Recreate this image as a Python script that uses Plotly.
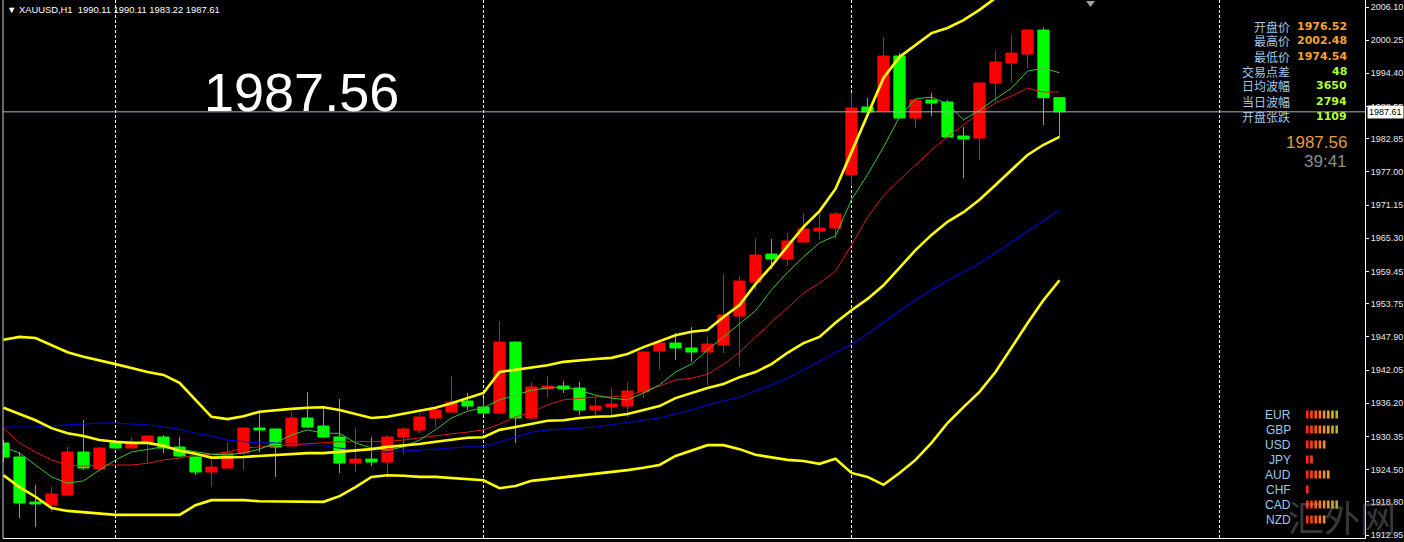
import plotly.graph_objects as go

# ---------------- data ----------------
SYMBOL = "XAUUSD,H1"
OPEN = [1929.18, 1926.71, 1918.77, 1918.24, 1920.00, 1927.59, 1924.59, 1929.35, 1928.30, 1929.18,
        1930.24, 1928.47, 1926.71, 1924.06, 1924.76, 1927.41, 1931.82, 1931.65, 1928.65, 1933.59,
        1932.17, 1930.24, 1925.65, 1926.35, 1925.82, 1930.24, 1931.47, 1933.59, 1934.65, 1936.59,
        1935.53, 1934.47, 1946.99, 1933.59, 1938.71, 1939.23, 1938.88, 1935.00, 1935.53, 1935.70,
        1938.18, 1945.41, 1946.82, 1945.94, 1945.23, 1946.47, 1951.58, 1957.58, 1962.52, 1961.64,
        1964.64, 1966.58, 1967.11, 1976.52, 1988.46, 1987.75, 1997.46, 1986.52, 1989.69, 1989.34,
        1983.34, 1982.99, 1992.69, 1996.22, 1997.81, 2002.04, 1990.11]
HIGH = [1929.71, 1927.59, 1921.77, 1921.41, 1928.47, 1933.23, 1928.40, 1929.50, 1930.24, 1930.41,
        1930.59, 1930.24, 1926.80, 1926.18, 1929.35, 1931.90, 1934.65, 1931.70, 1934.65, 1938.18,
        1935.35, 1936.94, 1931.82, 1930.24, 1930.59, 1932.00, 1934.47, 1935.35, 1941.00, 1938.00,
        1937.12, 1950.70, 1947.10, 1939.94, 1941.00, 1940.12, 1939.94, 1937.29, 1938.88, 1939.94,
        1945.40, 1946.90, 1948.58, 1949.64, 1947.88, 1959.00, 1958.64, 1965.35, 1965.17, 1966.23,
        1969.76, 1969.76, 1969.93, 1990.93, 1990.05, 2000.81, 1998.00, 1989.80, 1990.93, 1989.69,
        1984.93, 1992.87, 1998.34, 2001.16, 2002.20, 2002.48, 1990.11]
LOW = [1925.82, 1915.94, 1914.36, 1917.00, 1919.90, 1924.41, 1924.40, 1928.20, 1928.20, 1925.65,
       1927.41, 1926.71, 1923.53, 1921.41, 1924.70, 1924.41, 1927.59, 1923.18, 1928.60, 1931.82,
       1930.06, 1923.88, 1924.06, 1925.12, 1923.00, 1927.24, 1930.94, 1932.00, 1934.55, 1935.00,
       1934.12, 1934.30, 1929.18, 1933.23, 1937.29, 1938.00, 1934.12, 1934.12, 1934.12, 1933.76,
       1937.12, 1942.06, 1943.82, 1943.47, 1939.41, 1945.06, 1942.59, 1956.17, 1959.88, 1960.40,
       1964.50, 1964.99, 1965.35, 1974.54, 1986.69, 1987.60, 1986.40, 1984.75, 1986.87, 1982.99,
       1975.93, 1979.11, 1989.34, 1992.87, 1995.34, 1985.28, 1983.22]
CLOSE = [1926.71, 1918.59, 1918.42, 1920.18, 1927.59, 1924.76, 1928.30, 1928.30, 1929.18, 1930.41,
         1928.30, 1926.88, 1924.06, 1924.94, 1927.41, 1931.82, 1931.47, 1928.47, 1933.59, 1932.00,
         1930.24, 1925.65, 1926.35, 1925.82, 1930.24, 1931.65, 1933.77, 1935.00, 1936.41, 1935.70,
         1934.47, 1946.99, 1933.59, 1939.06, 1939.23, 1938.71, 1935.00, 1935.70, 1936.06, 1938.35,
         1945.23, 1946.82, 1945.94, 1945.23, 1946.64, 1951.76, 1957.76, 1962.35, 1961.64, 1964.82,
         1966.93, 1967.11, 1969.58, 1988.28, 1987.58, 1997.46, 1986.52, 1989.69, 1989.16, 1983.17,
         1982.81, 1992.69, 1996.40, 1997.98, 2002.04, 1990.11, 1987.61]

UPPER_BAND = [1947.4, 1947.9, 1947.7, 1946.5, 1945.2, 1944.4, 1943.8, 1943.1, 1942.4, 1941.7,
              1941.2, 1939.8, 1936.8, 1933.8, 1933.4, 1933.9, 1934.7, 1935.0, 1935.2, 1935.4,
              1935.5, 1935.0, 1934.3, 1933.6, 1933.8, 1934.3, 1934.8, 1935.4, 1936.2, 1937.1,
              1938.0, 1941.7, 1942.1, 1942.4, 1942.9, 1943.5, 1943.8, 1944.0, 1944.2, 1944.9,
              1946.1, 1947.2, 1948.2, 1948.8, 1949.1, 1951.4, 1953.5, 1957.2, 1960.4, 1963.9,
              1967.3, 1970.1, 1974.0, 1980.5, 1987.0, 1993.6, 1997.3, 1999.4, 2001.5, 2002.4,
              2003.8, 2005.6, 2007.7, 2009.5, 2010.9, 2012.3, 2013.5]
MIDDLE_BAND = [1935.4, 1934.3, 1933.2, 1931.8, 1930.9, 1930.4, 1929.7, 1929.4, 1929.2, 1929.2,
               1928.7, 1927.8, 1927.3, 1926.6, 1926.6, 1926.7, 1926.9, 1927.1, 1927.3, 1927.4,
               1927.4, 1927.6, 1927.8, 1928.1, 1928.5, 1928.7, 1929.0, 1929.4, 1929.7, 1930.1,
               1930.2, 1931.5, 1932.0, 1932.6, 1933.1, 1933.2, 1933.6, 1933.8, 1933.9, 1934.3,
               1935.0, 1935.7, 1937.1, 1938.0, 1938.9, 1939.6, 1940.8, 1941.7, 1943.1, 1945.1,
               1946.8, 1947.9, 1950.4, 1952.6, 1954.6, 1957.0, 1960.1, 1963.2, 1965.9, 1968.2,
               1969.9, 1972.1, 1974.7, 1977.3, 1980.0, 1981.8, 1983.2]
LOWER_BAND = [1923.5, 1921.4, 1919.7, 1917.7, 1917.2, 1917.0, 1916.8, 1916.5, 1916.5, 1916.5,
              1916.5, 1916.5, 1918.2, 1919.1, 1919.1, 1919.1, 1918.9, 1918.9, 1918.8, 1918.8,
              1918.8, 1919.8, 1921.4, 1923.2, 1923.5, 1923.4, 1923.2, 1923.2, 1923.0, 1922.8,
              1922.6, 1921.2, 1921.6, 1922.5, 1922.8, 1923.2, 1923.5, 1923.7, 1924.1, 1924.4,
              1924.8, 1925.3, 1926.9, 1927.9, 1928.8, 1928.8, 1928.1, 1927.1, 1926.6, 1926.2,
              1926.0, 1925.5, 1926.4, 1923.9, 1923.2, 1921.8, 1923.9, 1926.2, 1929.2, 1932.7,
              1935.5, 1938.2, 1941.7, 1946.1, 1950.3, 1954.4, 1957.9]
BLUE_MA = [1932.0, 1932.0, 1932.0, 1932.2, 1932.4, 1932.5, 1932.7, 1932.7, 1932.5, 1932.4,
           1932.0, 1931.6, 1930.9, 1930.4, 1929.7, 1929.5, 1929.2, 1929.2, 1929.0, 1928.8,
           1928.7, 1928.3, 1927.9, 1927.8, 1927.6, 1927.8, 1927.9, 1928.1, 1928.3, 1928.5,
           1928.5, 1929.4, 1930.2, 1931.1, 1931.5, 1931.6, 1931.8, 1932.0, 1932.4, 1932.9,
           1933.2, 1933.6, 1934.3, 1935.0, 1935.9, 1936.6, 1937.3, 1938.4, 1939.4, 1940.6,
           1942.1, 1943.5, 1945.1, 1946.6, 1948.4, 1950.5, 1952.5, 1954.4, 1956.2, 1957.8,
           1959.3, 1960.9, 1962.7, 1964.6, 1966.4, 1968.4, 1970.3]
RED_MA = [1931.8, 1929.2, 1927.6, 1926.2, 1925.3, 1925.1, 1925.3, 1925.3, 1925.3, 1925.6,
          1926.2, 1926.5, 1927.1, 1927.2, 1927.6, 1928.3, 1928.5, 1928.6, 1928.8, 1929.0,
          1929.2, 1929.4, 1929.4, 1929.4, 1929.5, 1929.7, 1930.1, 1930.4, 1930.8, 1931.1,
          1931.5, 1932.5, 1933.8, 1934.6, 1935.9, 1936.8, 1937.1, 1937.3, 1937.3, 1937.6,
          1938.4, 1939.2, 1940.3, 1940.6, 1941.3, 1943.1, 1945.2, 1947.9, 1950.5, 1953.0,
          1955.6, 1957.4, 1959.5, 1964.1, 1969.0, 1972.8, 1975.6, 1978.2, 1980.9, 1983.2,
          1985.3, 1987.4, 1989.2, 1990.4, 1991.8, 1991.1, 1991.1]
GREEN_MA = [1928.5, 1927.4, 1925.3, 1923.2, 1922.1, 1922.5, 1924.4, 1926.2, 1927.6, 1928.1,
            1928.5, 1928.1, 1927.6, 1927.2, 1927.1, 1927.4, 1928.1, 1929.2, 1930.6, 1931.5,
            1930.9, 1930.9, 1929.2, 1928.3, 1927.9, 1928.5, 1929.7, 1931.5, 1933.6, 1934.8,
            1935.4, 1936.8, 1937.6, 1938.5, 1938.9, 1939.1, 1938.5, 1937.6, 1937.1, 1936.8,
            1938.0, 1939.4, 1941.7, 1943.1, 1945.6, 1947.9, 1950.2, 1952.5, 1956.2, 1959.3,
            1962.0, 1964.5, 1965.7, 1972.1, 1976.5, 1981.4, 1986.7, 1989.9, 1990.2, 1989.0,
            1986.2, 1987.9, 1989.9, 1991.8, 1994.8, 1995.3, 1994.5]

DAY_SEPARATORS = [7, 30, 53, 76]
DAY_START = 53
Y_TICKS = [2006.10, 2000.25, 1994.40, 1988.55, 1982.85, 1977.00, 1971.15, 1965.30, 1959.45,
           1953.75, 1947.90, 1942.05, 1936.20, 1930.35, 1924.50, 1918.80, 1912.95]
BID = 1987.56
TIMER = "39:41"
SPREAD = 48
AVG_RANGE = 3650
INFO_LABELS = ["开盘价", "最高价", "最低价", "交易点差", "日均波幅", "当日波幅", "开盘张跌"]
CURRENCIES = ["EUR", "GBP", "USD", "JPY", "AUD", "CHF", "CAD", "NZD"]
STRENGTH = [8, 8, 5, 2, 6, 1, 8, 5]
STRENGTH_COLORS = ["#FF2A18", "#FF4014", "#FF5A12", "#FF7418", "#F48C20", "#E4A024", "#CDB028", "#B4B42C"]
WATERMARK = "汇外网"

# ---------------- geometry ----------------
W, H = 1404, 542
ML, MR, MT, MB = 3, 39, 0, 4
PW, PH = W - ML - MR, H - MT - MB
X_RANGE = [-0.03125, (PW - 0.5) / 16.0]
Y_RANGE = [1912.42, 2007.34]


def PX(x):
    return (x - ML) / PW


def PY(y):
    return 1 - (y - MT) / PH


N = len(CLOSE)
X = list(range(N))

fig = go.Figure()

fig.add_trace(go.Candlestick(
    x=X, open=OPEN, high=HIGH, low=LOW, close=CLOSE,
    increasing=dict(line=dict(color="#FF0000", width=1), fillcolor="#FF0000"),
    decreasing=dict(line=dict(color="#00FF00", width=1), fillcolor="#00FF00"),
    whiskerwidth=0, showlegend=False, hoverinfo="skip"))

for series, color, width in [
    (BLUE_MA, "#0000CC", 1.2),
    (RED_MA, "#D81818", 1),
    (GREEN_MA, "#34C834", 1),
    (LOWER_BAND, "#FFFF00", 2.6),
    (MIDDLE_BAND, "#FFFF00", 2.6),
    (UPPER_BAND, "#FFFF00", 2.6),
]:
    fig.add_trace(go.Scatter(x=X, y=series, mode="lines",
                             line=dict(color=color, width=width),
                             showlegend=False, hoverinfo="skip"))

shapes = []
for d in DAY_SEPARATORS:
    shapes.append(dict(type="line", xref="x", yref="paper", x0=d, x1=d, y0=0, y1=1,
                       line=dict(color="#FFFFFF", width=1, dash="3px,2px"), layer="below"))
last_close = CLOSE[-1]
shapes.append(dict(type="line", xref="paper", yref="y", x0=0, x1=1, y0=last_close, y1=last_close,
                   line=dict(color="#A8B2C0", width=1)))
shapes.append(dict(type="line", xref="paper", yref="paper", x0=0, x1=0, y0=0, y1=1,
                   line=dict(color="#D0D0D0", width=1)))
# chart-shift marker (small grey triangle at the top)
shapes.append(dict(type="path", xref="paper", yref="paper",
                   path="M %f %f L %f %f L %f %f Z" % (PX(1086), PY(1), PX(1095), PY(1), PX(1090.5), PY(7)),
                   fillcolor="#A0A0A0", line=dict(width=0)))

# currency strength bars
for i, (ccy, s) in enumerate(zip(CURRENCIES, STRENGTH)):
    yc = 414.5 + 15 * i
    for j in range(s):
        x0 = 1306 + 4.2 * j
        shapes.append(dict(type="rect", xref="paper", yref="paper",
                           x0=PX(x0), x1=PX(x0 + 2.6), y0=PY(yc + 4), y1=PY(yc - 4),
                           fillcolor=STRENGTH_COLORS[j], line=dict(width=0)))

ann = []
# header
ann.append(dict(xref="paper", yref="paper", x=PX(5), y=PY(10), xanchor="left", yanchor="middle",
                text="▼ %s  %.2f %.2f %.2f %.2f" % (SYMBOL, OPEN[-1], HIGH[-1], LOW[-1], CLOSE[-1]),
                showarrow=False, font=dict(family="Liberation Sans", size=9.4, color="#FFFFFF")))
# big bid
ann.append(dict(xref="paper", yref="paper", x=PX(301), y=PY(92), xanchor="center", yanchor="middle",
                text="%.2f" % BID, showarrow=False,
                font=dict(family="Liberation Sans", size=54, color="#FFFFFF")))
# price box on axis
ann.append(dict(xref="paper", yref="y", x=PX(1367), y=last_close, xanchor="left", yanchor="middle",
                text="%.2f" % last_close, showarrow=False, bgcolor="#FFFFFF", borderpad=1,
                font=dict(family="Liberation Sans", size=9, color="#000000")))

# info panel
day_open = OPEN[DAY_START]
day_high = max(HIGH[DAY_START:])
day_low = min(LOW[DAY_START:])
values = ["%.2f" % day_open, "%.2f" % day_high, "%.2f" % day_low, str(SPREAD), str(AVG_RANGE),
          str(int(round((day_high - day_low) * 100))), str(int(round((last_close - day_open) * 100)))]
vcolors = ["#F5A230"] * 3 + ["#ADFF2F"] * 4
for i, (lab, val) in enumerate(zip(INFO_LABELS, values)):
    yc = 26 + 15 * i
    ann.append(dict(xref="paper", yref="paper", x=PX(1292), y=PY(yc), xanchor="right", yanchor="middle",
                    text=lab, showarrow=False,
                    font=dict(family="Noto Sans CJK SC", size=12, color="#A4C6E6")))
    ann.append(dict(xref="paper", yref="paper", x=PX(1349), y=PY(yc), xanchor="right", yanchor="middle",
                    text="<b>%s</b>" % val, showarrow=False,
                    font=dict(family="DejaVu Sans", size=11, color=vcolors[i])))
ann.append(dict(xref="paper", yref="paper", x=PX(1349), y=PY(142), xanchor="right", yanchor="middle",
                text="%.2f" % BID, showarrow=False,
                font=dict(family="Liberation Sans", size=17, color="#E49C3C")))
ann.append(dict(xref="paper", yref="paper", x=PX(1349), y=PY(162), xanchor="right", yanchor="middle",
                text=TIMER, showarrow=False,
                font=dict(family="Liberation Sans", size=17, color="#8C8C8C")))

# currency labels
for i, ccy in enumerate(CURRENCIES):
    ann.append(dict(xref="paper", yref="paper", x=PX(1293), y=PY(414.5 + 15 * i), xanchor="right",
                    yanchor="middle", text=ccy, showarrow=False,
                    font=dict(family="Liberation Sans", size=12, color="#A0C8E8")))

# watermark
ann.append(dict(xref="paper", yref="paper", x=PX(1342), y=PY(516), xanchor="center", yanchor="middle",
                text=WATERMARK, showarrow=False,
                font=dict(family="Noto Sans CJK SC", size=36, color="rgba(150,150,150,0.40)")))

fig.update_layout(
    width=W, height=H,
    margin=dict(l=ML, r=MR, t=MT, b=MB, pad=0),
    paper_bgcolor="#000000", plot_bgcolor="#000000",
    showlegend=False, boxgap=0.3, boxgroupgap=0,
    shapes=shapes, annotations=ann,
    xaxis=dict(range=X_RANGE, showgrid=False, zeroline=False, showticklabels=False,
               showline=True, linecolor="#FFFFFF", linewidth=1, rangeslider=dict(visible=False),
               fixedrange=True),
    yaxis=dict(range=Y_RANGE, side="right", showgrid=False, zeroline=False,
               tickvals=Y_TICKS, ticktext=["%.2f" % v for v in Y_TICKS],
               ticks="outside", ticklen=3, tickcolor="#FFFFFF", tickwidth=1,
               showline=True, linecolor="#FFFFFF", linewidth=1,
               tickfont=dict(family="Liberation Sans", size=9, color="#E8E8E8"),
               fixedrange=True),
)

fig.write_html("out.html", config={"displayModeBar": False},
               post_script="document.body.style.margin='0px';document.body.style.overflow='hidden';"
                           "document.body.style.background='#000';")
